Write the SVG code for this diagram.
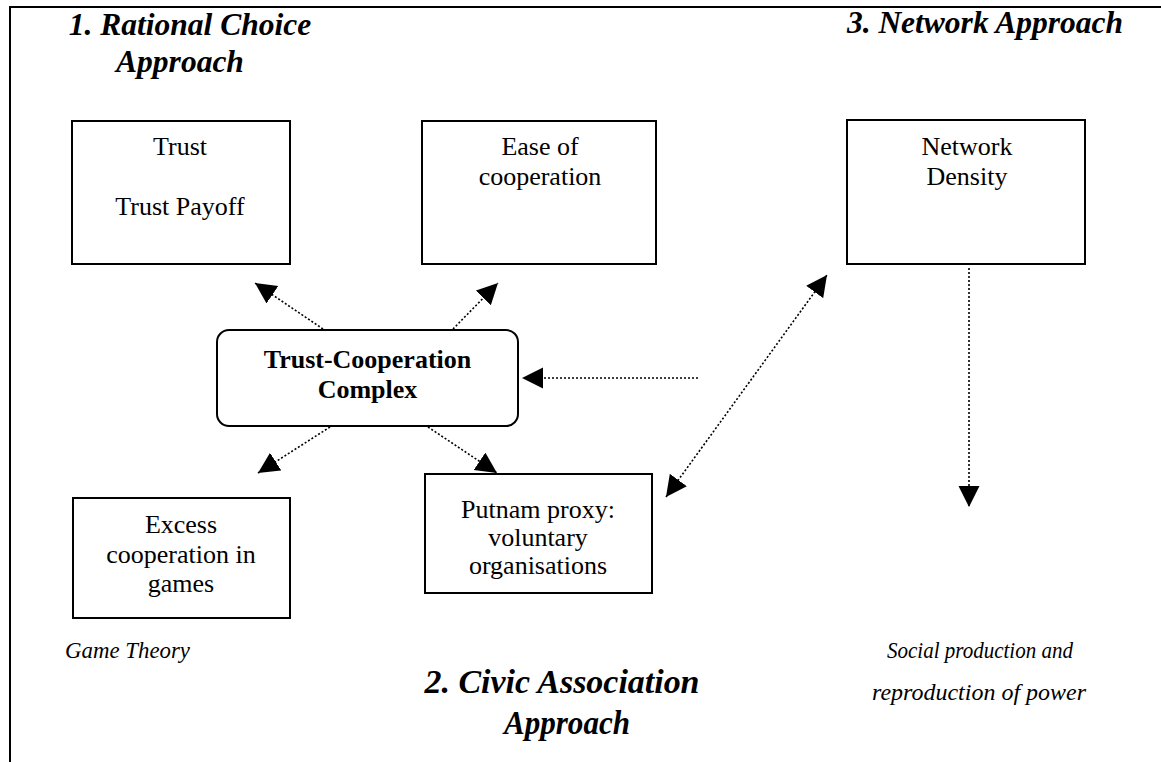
<svg xmlns="http://www.w3.org/2000/svg" width="1161" height="762" viewBox="0 0 1161 762">
<style>
  text{font-family:'Liberation Serif','Times New Roman','DejaVu Serif',Times,serif}
  .box{fill:#fff;stroke:#000;stroke-width:2}
  .t{font-size:26px;fill:#000;text-anchor:middle}
  .b{font-weight:bold}
  .h{font-size:31.5px;font-weight:bold;font-style:italic;fill:#000}
  .hc{font-size:34px;font-weight:bold;font-style:italic;fill:#000}
  .i{font-size:23px;font-style:italic;fill:#000}
  .c{fill:none;stroke:#000;stroke-width:1.6;stroke-dasharray:2 2}
</style>
<defs>
  <marker id="ah" markerUnits="userSpaceOnUse" markerWidth="22" markerHeight="22" refX="21" refY="10.5" orient="auto-start-reverse">
    <path d="M0,0 L21,10.5 L0,21 z" fill="#000"/>
  </marker>
</defs>
<rect width="1161" height="762" fill="#fff"/>
<path d="M10,762 L10,7 L1161,7" fill="none" stroke="#000" stroke-width="2"/>

<g id="headings">
  <text class="h" x="190" y="35" text-anchor="middle">1. Rational Choice</text>
  <text class="h" x="180" y="72" text-anchor="middle">Approach</text>
  <text class="h" x="985" y="33" text-anchor="middle">3. Network Approach</text>
  <text class="hc" x="562" y="693" text-anchor="middle" textLength="275" lengthAdjust="spacingAndGlyphs">2. Civic Association</text>
  <text class="hc" x="567" y="734" text-anchor="middle" textLength="126" lengthAdjust="spacingAndGlyphs">Approach</text>
  <text class="i" x="65" y="658" textLength="125" lengthAdjust="spacingAndGlyphs">Game Theory</text>
  <text class="i" x="887" y="658" textLength="186" lengthAdjust="spacingAndGlyphs">Social production and</text>
  <text class="i" x="872" y="700" textLength="214" lengthAdjust="spacingAndGlyphs">reproduction of power</text>
</g>

<g id="trust">
  <rect class="box" x="72" y="121" width="218" height="143"/>
  <text class="t" x="180" y="155">Trust</text>
  <text class="t" x="180" y="215">Trust Payoff</text>
</g>
<g id="ease">
  <rect class="box" x="422" y="121" width="234" height="143"/>
  <text class="t" x="540" y="155">Ease of</text>
  <text class="t" x="540" y="185">cooperation</text>
</g>
<g id="network">
  <rect class="box" x="847" y="120" width="238" height="144"/>
  <text class="t" x="967" y="155">Network</text>
  <text class="t" x="967" y="185">Density</text>
</g>
<g id="complex">
  <rect class="box" x="217" y="330" width="301" height="96" rx="12"/>
  <text class="t b" x="367.5" y="368">Trust-Cooperation</text>
  <text class="t b" x="367.5" y="398">Complex</text>
</g>
<g id="excess">
  <rect class="box" x="73" y="498" width="217" height="120"/>
  <text class="t" x="181" y="533">Excess</text>
  <text class="t" x="181" y="563">cooperation in</text>
  <text class="t" x="181" y="592">games</text>
</g>
<g id="putnam">
  <rect class="box" x="425" y="474" width="227" height="119"/>
  <text class="t" x="538" y="518">Putnam proxy:</text>
  <text class="t" x="538" y="546">voluntary</text>
  <text class="t" x="538" y="574">organisations</text>
</g>

<g id="connectors">
  <line class="c" x1="323" y1="329" x2="255" y2="283" marker-end="url(#ah)"/>
  <line class="c" x1="453" y1="329" x2="498" y2="283" marker-end="url(#ah)"/>
  <line class="c" x1="330" y1="427" x2="258" y2="473" marker-end="url(#ah)"/>
  <line class="c" x1="428" y1="427" x2="497" y2="473" marker-end="url(#ah)"/>
  <line class="c" x1="698" y1="378" x2="522" y2="378" marker-end="url(#ah)"/>
  <line class="c" x1="666" y1="497" x2="827" y2="275" marker-start="url(#ah)" marker-end="url(#ah)"/>
  <line class="c" x1="969" y1="268" x2="969" y2="507" marker-end="url(#ah)"/>
</g>
</svg>
